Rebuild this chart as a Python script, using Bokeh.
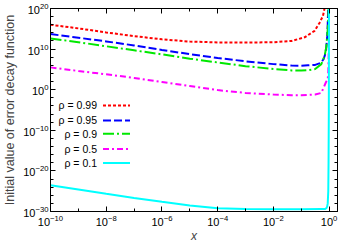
from bokeh.plotting import figure
from bokeh.models import LogAxis, FixedTicker, Label, Arrow, Range1d, CustomJSTickFormatter
from bokeh.embed import file_html
from bokeh.resources import INLINE

# ---- data (log10 of x and of the initial error value) ----
labels = ["ρ = 0.99", "ρ = 0.95", "ρ = 0.9", "ρ = 0.5", "ρ = 0.1"]

lx_099 = [-10, -9, -8, -7, -6, -5, -4, -3, -2, -1.35, -0.88, -0.52, -0.34, -0.22, -0.15]
ly_099 = [16.0, 15.1, 14.1, 13.2, 12.4, 11.85, 11.65, 11.6, 11.7, 12.0, 12.9, 14.5, 16.5, 18.2, 20.5]

lx_095 = [-10, -9, -8, -7, -6, -5, -4, -3, -2, -1.35, -1, -0.76, -0.5, -0.3, -0.2, -0.15, -0.1, -0.07, -0.05, -0.03]
ly_095 = [13.7, 12.8, 11.9, 10.9, 9.8, 8.75, 7.8, 7.0, 6.3, 5.95, 5.9, 6.0, 6.1, 6.6, 7.5, 8.5, 10.5, 13.0, 16.0, 21.0]

lx_09 = [-10, -9, -8, -7, -6, -5, -4, -3, -2, -1.35, -1, -0.76, -0.5, -0.28, -0.16, -0.1, -0.05, -0.03, -0.015]
ly_09 = [12.6, 11.7, 10.7, 9.7, 8.7, 7.65, 6.7, 5.8, 5.1, 4.75, 4.7, 4.8, 5.1, 6.3, 8.4, 10.5, 14.9, 18.0, 21.0]

lx_05 = [-10, -9, -8, -7, -6, -5, -4, -3, -2, -1.35, -1, -0.5, -0.28, -0.11, -0.05, -0.03, -0.02, -0.01, -0.005]
ly_05 = [5.5, 4.6, 3.8, 2.9, 1.9, 0.9, -0.1, -0.8, -1.2, -1.35, -1.35, -1.2, -0.8, 1.9, 2.5, 4.5, 7.0, 12.0, 21.0]

lx_01 = [-10, -9, -8, -7, -6, -5, -4, -3, -2, -1, -0.3, -0.15, -0.1, -0.07, -0.05, -0.03, -0.02, -0.01, -0.004]
ly_01 = [-23.55, -24.6, -25.65, -26.65, -27.6, -28.5, -29.2, -29.4, -29.45, -29.45, -29.4, -29.4, -29.2, -28.8, -28.0, -25.0, -18.0, -5.0, 21.0]

x_ticks = [1e-10, 1e-8, 1e-6, 1e-4, 1e-2, 1e0]
x_minor = [1e-9, 1e-7, 1e-5, 1e-3, 1e-1]
y_ticks = [1e-30, 1e-20, 1e-10, 1e0, 1e10, 1e20]
y_minor = [1e-28, 1e-26, 1e-24, 1e-22, 1e-18, 1e-16, 1e-14, 1e-12,
           1e-8, 1e-6, 1e-4, 1e-2, 1e2, 1e4, 1e6, 1e8, 1e12, 1e14, 1e16, 1e18]

series = [(lx_099, ly_099), (lx_095, ly_095), (lx_09, ly_09), (lx_05, ly_05), (lx_01, ly_01)]
colors = ["#ff0000", "#0000ff", "#00e800", "#ff00ff", "#00ffff"]
dashes = ["3 2", "8 3", "11 3 2 3", "6 3 2 3", "solid"]

FONT = "Liberation Sans"

W, H = 350, 245
BL, BR, BT, BB = 47, 13, 8, 33

p = figure(width=W, height=H, x_axis_type="log", y_axis_type="log",
           x_range=Range1d(1e-10, 2), y_range=Range1d(1e-30, 1e20),
           output_backend="svg", toolbar_location=None,
           min_border_left=BL, min_border_right=BR, min_border_top=BT, min_border_bottom=BB)

p.xgrid.visible = False
p.ygrid.visible = False
p.outline_line_color = "black"
p.outline_line_width = 1

for (lx, ly), c, d in zip(series, colors, dashes):
    xs = [10 ** v for v in lx]
    ys = [10 ** v for v in ly]
    p.line(xs, ys, line_color=c, line_width=2, line_dash=d)

def style_axis(ax, ticks, minor, show_labels):
    ax.ticker = FixedTicker(ticks=ticks, minor_ticks=minor)
    ax.major_tick_in = 5
    ax.major_tick_out = 0
    ax.minor_tick_in = 3
    ax.minor_tick_out = 0
    ax.axis_line_color = "black"
    ax.major_tick_line_color = "black"
    ax.minor_tick_line_color = "black"
    ax.major_label_text_font = FONT
    ax.major_label_text_color = "black"
    ax.major_label_text_font_size = "11px"
    if not show_labels:
        ax.formatter = CustomJSTickFormatter(code="return ''")
        ax.major_label_standoff = 0

style_axis(p.xaxis[0], x_ticks, x_minor, True)
style_axis(p.yaxis[0], y_ticks, y_minor, True)
p.xaxis[0].major_label_standoff = 3
p.yaxis[0].major_label_standoff = 2

p.xaxis.axis_label = "x"
p.xaxis.axis_label_text_font = FONT
p.xaxis.axis_label_text_font_size = "12px"
p.xaxis.axis_label_text_font_style = "italic"
p.xaxis.axis_label_standoff = 0

p.yaxis.axis_label = "Initial value of error decay function"
p.yaxis.axis_label_text_font = FONT
p.yaxis.axis_label_text_font_size = "12.5px"
p.yaxis.axis_label_text_font_style = "normal"
p.yaxis.axis_label_standoff = 3

top = LogAxis()
style_axis(top, x_ticks, x_minor, False)
p.add_layout(top, "above")
right = LogAxis()
style_axis(right, y_ticks, y_minor, False)
p.add_layout(right, "right")

# legend: label text right-aligned, then line sample (gnuplot style)
frame_h = H - BT - BB
scale = frame_h / 204.5
leg_y = [106.3, 91.3, 78.0, 62.7, 48.7]
for lab, c, d, yy in zip(labels, colors, dashes, leg_y):
    ys = yy * scale
    p.add_layout(Label(x=46.5, y=ys, x_units="screen", y_units="screen", text=lab,
                       text_align="right", text_baseline="middle",
                       text_font=FONT, text_font_size="10.5px", text_color="black"))
    p.add_layout(Arrow(end=None, x_start=52.5, x_end=79.5, y_start=ys, y_end=ys,
                       start_units="screen", end_units="screen",
                       line_color=c, line_width=2, line_dash=d))

open("out.html", "w").write(file_html(p, INLINE))
